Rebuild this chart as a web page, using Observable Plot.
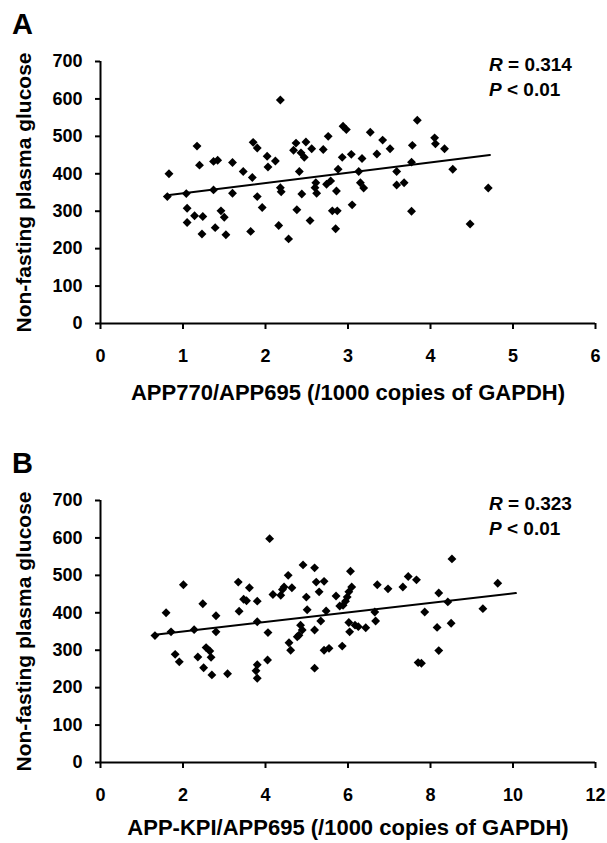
<!DOCTYPE html>
<html><head><meta charset="utf-8">
<script src="https://cdn.jsdelivr.net/npm/d3@7"></script>
<script src="https://cdn.jsdelivr.net/npm/@observablehq/plot@0.6"></script>
<style>
body{margin:0;background:#fff;}
#wrap{position:relative;width:607px;height:843px;overflow:hidden;font-family:"Liberation Sans",Arial,sans-serif;color:#000;}
.panel{position:absolute;left:0;}
.letter{position:absolute;left:12px;font-weight:bold;font-size:29px;line-height:1;}
.stat{position:absolute;left:489px;font-weight:bold;font-size:19px;line-height:25px;white-space:nowrap;}
</style></head>
<body>
<div id="wrap"></div>
<script>
// Panel A: APP770/APP695 vs non-fasting plasma glucose
const aX = [0.83,0.81,1.04,1.17,1.20,1.05,1.05,1.14,1.24,1.23,1.37,1.37,1.42,1.60,1.60,1.39,1.46,1.50,1.52,1.73,1.84,1.82,1.85,1.90,1.90,2.18,2.02,2.12,2.03,1.96,2.18,2.19,2.16,2.28,2.41,2.37,2.34,2.49,2.43,2.47,2.56,2.44,2.38,2.54,2.61,2.60,2.62,2.76,2.70,2.74,2.79,2.86,2.81,2.87,2.85,2.94,2.98,2.88,2.93,3.04,3.17,3.13,3.15,3.19,3.05,3.27,3.42,3.51,3.35,3.59,3.59,3.68,3.78,3.77,3.77,3.84,4.05,4.06,4.17,4.27,4.70,4.48];
const aY = [400,339,347,474,423,308,270,288,286,239,357,433,436,430,348,256,301,284,237,406,390,246,484,469,339,597,447,434,418,310,363,352,262,226,406,482,463,485,456,444,467,346,304,275,376,363,348,500,465,372,381,354,301,301,253,527,518,412,444,452,441,406,376,362,317,511,490,467,453,406,370,376,476,431,300,543,496,480,467,412,362,266];
// Panel B: APP-KPI/APP695 vs non-fasting plasma glucose
const bX = [1.32,1.71,1.59,2.01,1.81,1.91,2.27,2.48,2.80,2.80,2.36,2.56,2.65,2.68,2.50,2.70,3.08,3.34,3.61,3.47,3.54,3.36,3.80,3.80,3.80,3.77,3.80,4.05,4.06,4.18,4.37,4.41,4.45,4.64,4.55,4.91,5.19,4.99,5.01,5.23,5.42,5.30,5.47,5.34,4.85,4.89,4.81,4.77,4.57,4.61,5.19,5.42,5.54,5.19,5.86,5.71,6.06,6.09,6.02,5.98,5.94,5.88,5.80,6.02,6.17,6.04,6.25,6.43,6.65,6.67,6.71,6.97,7.33,7.46,7.66,7.70,8.52,8.20,8.42,7.86,8.16,8.50,8.20,7.78,9.27,9.63,4.10];
const bY = [339,349,400,475,289,269,355,424,392,349,282,307,298,281,253,234,237,482,467,436,432,404,431,376,261,245,225,274,347,449,447,462,469,467,500,528,520,442,408,482,484,456,405,378,367,354,340,336,320,300,354,300,305,252,311,445,511,469,456,442,431,420,418,374,367,349,363,360,402,378,475,464,469,497,488,267,544,453,429,402,361,372,299,265,411,479,598];

// Extent of each drawn trendline along x
const aFitExtent = [0.81, 4.72];
const bFitExtent = [1.32, 10.07];

const yTicks = [0,100,200,300,400,500,600,700];
const aXTicks = [0,1,2,3,4,5,6];
const bXTicks = [0,2,4,6,8,10,12];
const yLabel = "Non-fasting plasma glucose";
const aXLabel = "APP770/APP695 (/1000 copies of GAPDH)";
const bXLabel = "APP-KPI/APP695 (/1000 copies of GAPDH)";
const panelLetters = ["A","B"];
const rLabels = ["0.314","0.323"];
const pLabels = ["0.01","0.01"];

const font = "'Liberation Sans', Arial, sans-serif";

function ols(xs, ys) {
  const mx = d3.mean(xs), my = d3.mean(ys);
  let sxy = 0, sxx = 0;
  xs.forEach((x, i) => { sxy += (x - mx) * (ys[i] - my); sxx += (x - mx) ** 2; });
  const b = sxy / sxx;
  return {a: my - b * mx, b};
}

function makePanel(xs, ys, fitExtent, xDomain, xTicks, xLabel, height, titleDy) {
  const data = xs.map((x, i) => ({x, y: ys[i]}));
  const fit = ols(xs, ys);
  const fitLine = fitExtent.map(x => ({x, y: fit.a + fit.b * x}));
  return Plot.plot({
    width: 607, height,
    marginLeft: 100, marginRight: 12, marginTop: 61, marginBottom: height - 323,
    x: {domain: xDomain},
    y: {domain: [0, 700]},
    style: {fontFamily: font, fontWeight: "bold", color: "#000", background: "#fff"},
    marks: [
      Plot.axisY({ticks: yTicks, tickSize: 5, tickPadding: 13, fontSize: 18, fontWeight: "bold", label: null, strokeWidth: 2, tickFormat: d3.format("d")}),
      Plot.axisX({ticks: xTicks, tickSize: 6, tickPadding: 20, fontSize: 18, fontWeight: "bold", label: null, strokeWidth: 2, tickFormat: d3.format("d")}),
      Plot.ruleX([xDomain[0]], {strokeWidth: 2}),
      Plot.ruleY([0], {strokeWidth: 2}),
      Plot.line(fitLine, {x: "x", y: "y", stroke: "#000", strokeWidth: 2}),
      Plot.dot(data, {x: "x", y: "y", symbol: "diamond2", r: 4, fill: "#000", stroke: null}),
      Plot.text([xLabel], {frameAnchor: "bottom", dy: titleDy, textAnchor: "middle", lineAnchor: "middle", fontSize: 22, fontWeight: "bold"}),
      Plot.text([yLabel], {frameAnchor: "left", dx: -76, rotate: -90, textAnchor: "middle", lineAnchor: "middle", fontSize: 21, fontWeight: "bold"})
    ]
  });
}

const wrap = document.getElementById("wrap");
const specs = [
  {xs: aX, ys: aY, fit: aFitExtent, dom: [0, 6], ticks: aXTicks, label: aXLabel, top: 0, h: 420, dy: 69},
  {xs: bX, ys: bY, fit: bFitExtent, dom: [0, 12], ticks: bXTicks, label: bXLabel, top: 439, h: 404, dy: 65}
];
specs.forEach((s, i) => {
  const div = document.createElement("div");
  div.className = "panel";
  div.style.top = s.top + "px";
  div.appendChild(makePanel(s.xs, s.ys, s.fit, s.dom, s.ticks, s.label, s.h, s.dy));
  wrap.appendChild(div);
  const L = document.createElement("div");
  L.className = "letter";
  L.style.top = (s.top + 10) + "px";
  L.textContent = panelLetters[i];
  wrap.appendChild(L);
  const st = document.createElement("div");
  st.className = "stat";
  st.style.top = (s.top + 52) + "px";
  st.innerHTML = "<i>R</i> = " + rLabels[i] + "<br><i>P</i> &lt; " + pLabels[i];
  wrap.appendChild(st);
});
</script>
</body></html>
